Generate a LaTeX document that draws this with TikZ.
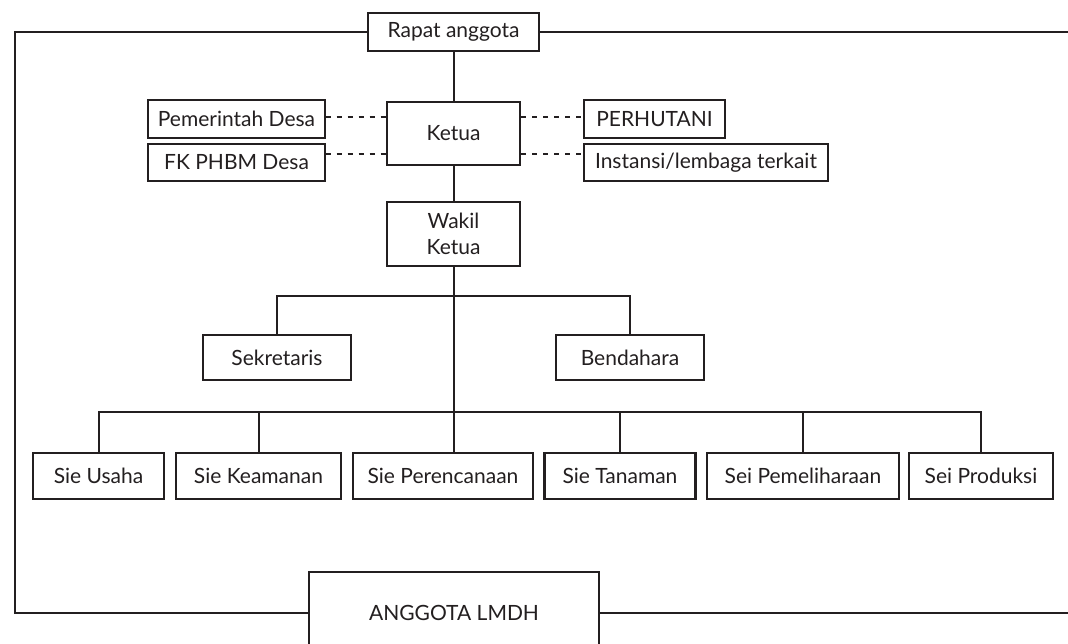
\documentclass[tikz,border=0pt]{standalone}
\usepackage{fontspec}
\setmainfont{Lato}
\definecolor{ink}{HTML}{231F20}
\begin{document}
\begin{tikzpicture}[x=1pt,y=-1pt]
\tikzset{
  base/.style={draw=ink, inner sep=0pt, font=\fontsize{21}{26}\selectfont, text=ink, align=center},
  heavybox/.style={base, line width=2.2pt},
  lightbox/.style={base, line width=1.3pt},
  sz/.style n args={2}{minimum width=#1, minimum height=#2},
  link/.style={draw=ink, line width=2pt},
  dots/.style={draw=ink, line width=2pt, dash pattern=on 5pt off 6pt}
}
\useasboundingbox (0,0) rectangle (1068,643);
\clip (0,0) rectangle (1068,643);
\fill[white] (0,0) rectangle (1068,643);
% nodes
\node[heavybox, sz={171}{38}] (rapat) at (453.5,32) {Rapat anggota};
\node[heavybox, sz={133}{63}] (ketua) at (453.5,133.5) {Ketua};
\node[lightbox, sz={177}{38}] (pem) at (236.5,119) {Pemerintah Desa};
\node[lightbox, sz={177}{37}] (fk) at (236.5,162.5) {FK PHBM Desa};
\node[heavybox, sz={141}{38}] (perh) at (654.5,119) {PERHUTANI};
\node[lightbox, sz={244}{37}] (inst) at (706,162.5) {Instansi/lembaga terkait};
\node[heavybox, sz={133}{64}] (wakil) at (453.5,234) {Wakil\\Ketua};
\node[heavybox, sz={148}{45}] (sek) at (277,357.5) {Sekretaris};
\node[heavybox, sz={148}{45}] (bend) at (630,357.5) {Bendahara};
\node[heavybox, sz={131}{46}] (usaha) at (98.5,476) {Sie Usaha};
\node[heavybox, sz={165}{46}] (keam) at (258.5,476) {Sie Keamanan};
\node[heavybox, sz={180}{46}] (peren) at (443,476) {Sie Perencanaan};
\node[heavybox, sz={151}{46}] (tanaman) at (620,476) {Sie Tanaman};
\node[heavybox, sz={192}{46}] (pemel) at (803,476) {Sei Pemeliharaan};
\node[heavybox, sz={144}{46}] (prod) at (981,476) {Sei Produksi};
\node[base, line width=1.8pt, sz={290}{82}] (anggota) at (454,613) {ANGGOTA LMDH};
% helper coordinates
\coordinate (d1) at (0,117);
\coordinate (d2) at (0,154);
\coordinate (b1) at (0,296);
\coordinate (b2) at (0,412);
\coordinate (L) at (15,0);
\coordinate (R) at (1075,0);
% connectors
\draw[link] (rapat.south) -- (ketua.north);
\draw[link] (ketua.south) -- (wakil.north);
\draw[link] (wakil.south) -- (wakil.south |- peren.north);
\draw[link] (sek.north) -- (sek.north |- b1) -- (bend.north |- b1) -- (bend.north);
\draw[link] (usaha.north) -- (usaha.north |- b2) -- (prod.north |- b2) -- (prod.north);
\foreach \n in {keam,tanaman,pemel} \draw[link] (\n.north) -- (\n.north |- b2);
\draw[dots] (pem.east |- d1) -- (ketua.west |- d1);
\draw[dots] (fk.east |- d2) -- (ketua.west |- d2);
\draw[dots] (ketua.east |- d1) -- (perh.west |- d1);
\draw[dots] (ketua.east |- d2) -- (inst.west |- d2);
\draw[link] (rapat.west) -- (rapat.west -| L) -- (anggota.west -| L) -- (anggota.west);
\draw[link] (rapat.east) -- (rapat.east -| R);
\draw[link] (anggota.east) -- (anggota.east -| R);
\end{tikzpicture}
\end{document}
